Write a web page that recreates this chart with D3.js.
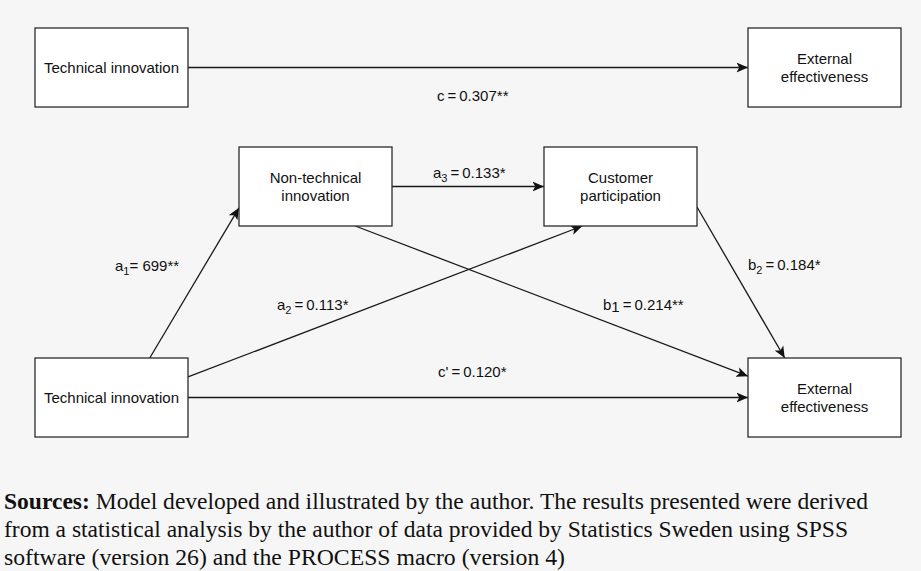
<!DOCTYPE html>
<html>
<head>
<meta charset="utf-8">
<script src="https://cdn.jsdelivr.net/npm/d3@7"></script>
<style>
  html, body { margin: 0; padding: 0; background: #f6f6f6; }
  svg { display: block; }
</style>
</head>
<body>
<div id="chart"></div>
<script>
// Path model: nodes, paths and coefficients
const nodeIds = ['ti1', 'ee1', 'nti', 'cp', 'ti2', 'ee2'];
const nodeLabels = [
  ['Technical innovation'],
  ['External', 'effectiveness'],
  ['Non-technical', 'innovation'],
  ['Customer', 'participation'],
  ['Technical innovation'],
  ['External', 'effectiveness'],
];

const edgeIds = ['c', 'a1', 'a2', 'a3', 'b1', 'b2', 'cp'];
const edgeFrom = ['ti1', 'ti2', 'ti2', 'nti', 'nti', 'cp', 'ti2'];
const edgeTo = ['ee1', 'nti', 'cp', 'cp', 'ee2', 'ee2', 'ee2'];
const edgeSymbol = ['c', 'a', 'a', 'a', 'b', 'b', "c'"];
const edgeSub = ['', '1', '2', '3', '1', '2', ''];
const edgeValue = ['\u2009=\u20090.307**', '= 699**', '\u2009=\u20090.113*', '\u2009=\u20090.133*',
  '\u2009=\u20090.214**', '\u2009=\u20090.184*', '\u2009=\u20090.120*'];

const captionBold = 'Sources:';
const captionLines = [
  ' Model developed and illustrated by the author. The results presented were derived',
  'from a statistical analysis by the author of data provided by Statistics Sweden using SPSS',
  'software (version 26) and the PROCESS macro (version 4)',
];

// Layout
const W = 921, H = 571;
const BOX_W = 153, BOX_H = 79;
const colX = d3.scaleOrdinal().domain(['left', 'midL', 'midR', 'right']).range([35, 239, 544, 748]);
const rowY = d3.scaleOrdinal().domain(['top', 'mid', 'bottom']).range([28, 147, 358]);
const nodePlace = {
  ti1: ['left', 'top'], ee1: ['right', 'top'], nti: ['midL', 'mid'],
  cp: ['midR', 'mid'], ti2: ['left', 'bottom'], ee2: ['right', 'bottom'],
};
// side + fraction along that side, for edge start / end
const edgeAnchors = {
  c:  [['r', 0.5], ['l', 0.5]],
  a1: [['t', 0.75], ['l', 0.77]],
  a2: [['r', 0.24], ['b', 0.25]],
  a3: [['r', 0.5], ['l', 0.5]],
  b1: [['b', 0.76], ['l', 0.23]],
  b2: [['r', 0.76], ['t', 0.24]],
  cp: [['r', 0.5], ['l', 0.5]],
};
// label start x and baseline y
const labelAt = {
  c: [437, 101], a1: [115, 271], a2: [277, 310], a3: [433, 178],
  b1: [603, 310], b2: [748, 270], cp: [438, 377],
};

const svg = d3.select('#chart').append('svg')
  .attr('width', W).attr('height', H)
  .style('font-family', '"Liberation Sans", Arial, Helvetica, sans-serif');

svg.append('rect').attr('width', W).attr('height', H).attr('fill', '#f6f6f6');

svg.append('defs').append('marker')
  .attr('id', 'arrow')
  .attr('viewBox', '0 -5.5 12 11')
  .attr('refX', 11.5).attr('refY', 0)
  .attr('markerWidth', 12).attr('markerHeight', 11)
  .attr('markerUnits', 'userSpaceOnUse')
  .attr('orient', 'auto')
  .append('path')
  .attr('d', 'M0,-5L11.5,0L0,5L2.8,0Z')
  .attr('fill', '#111');

const boxOf = id => {
  const [c, r] = nodePlace[id];
  return { x: colX(c), y: rowY(r), w: BOX_W, h: BOX_H };
};

function anchorPoint(b, [side, f]) {
  if (side === 'l') return [b.x, b.y + b.h * f];
  if (side === 'r') return [b.x + b.w, b.y + b.h * f];
  if (side === 't') return [b.x + b.w * f, b.y];
  return [b.x + b.w * f, b.y + b.h];
}

const edges = edgeIds.map((id, i) => {
  const p1 = anchorPoint(boxOf(edgeFrom[i]), edgeAnchors[id][0]);
  const p2 = anchorPoint(boxOf(edgeTo[i]), edgeAnchors[id][1]);
  return { id, p1, p2, sym: edgeSymbol[i], sub: edgeSub[i], val: edgeValue[i] };
});

// Edges
svg.append('g').selectAll('line')
  .data(edges)
  .join('line')
  .attr('x1', d => d.p1[0]).attr('y1', d => d.p1[1])
  .attr('x2', d => d.p2[0]).attr('y2', d => d.p2[1])
  .attr('stroke', '#1a1a1a')
  .attr('stroke-width', 1.3)
  .attr('marker-end', 'url(#arrow)');

// Boxes
const nodes = svg.append('g').selectAll('g')
  .data(nodeIds.map((id, i) => ({ id, lines: nodeLabels[i], ...boxOf(id) })))
  .join('g');

nodes.append('rect')
  .attr('x', d => d.x).attr('y', d => d.y)
  .attr('width', d => d.w).attr('height', d => d.h)
  .attr('fill', '#fff')
  .attr('stroke', '#2b2b2b')
  .attr('stroke-width', 1.3);

nodes.append('text')
  .attr('text-anchor', 'middle')
  .attr('font-size', 15)
  .attr('fill', '#111')
  .each(function (d) {
    const t = d3.select(this);
    const n = d.lines.length;
    d.lines.forEach((line, k) => {
      t.append('tspan')
        .attr('x', d.x + d.w / 2)
        .attr('y', d.y + d.h / 2 + 5.3 + (k - (n - 1) / 2) * 18)
        .text(line);
    });
  });

// Coefficient labels
svg.append('g').selectAll('text')
  .data(edges)
  .join('text')
  .attr('x', d => labelAt[d.id][0])
  .attr('y', d => labelAt[d.id][1])
  .attr('font-size', 15)
  .attr('fill', '#111')
  .each(function (d) {
    const t = d3.select(this);
    t.append('tspan').text(d.sym);
    if (d.sub) {
      const plain = d.id === 'b1';
      t.append('tspan')
        .attr('font-size', plain ? 15 : 11)
        .attr('dy', plain ? 2 : 4)
        .text(d.sub);
      t.append('tspan').attr('dy', plain ? -2 : -4).text(d.val);
    } else {
      t.append('tspan').text(d.val);
    }
  });

// Caption
const cap = svg.append('g')
  .style('font-family', '"Liberation Serif", "Times New Roman", Times, serif')
  .attr('font-size', 24)
  .attr('fill', '#111');

const capEnds = [868, 848, 565];
const capBase = [509, 537, 565];
captionLines.forEach((line, i) => {
  const t = cap.append('text')
    .attr('x', 4)
    .attr('y', capBase[i])
    .attr('textLength', capEnds[i] - 4)
    .attr('lengthAdjust', 'spacingAndGlyphs');
  if (i === 0) t.append('tspan').attr('font-weight', 'bold').text(captionBold);
  t.append('tspan').text(line);
});
</script>
</body>
</html>
